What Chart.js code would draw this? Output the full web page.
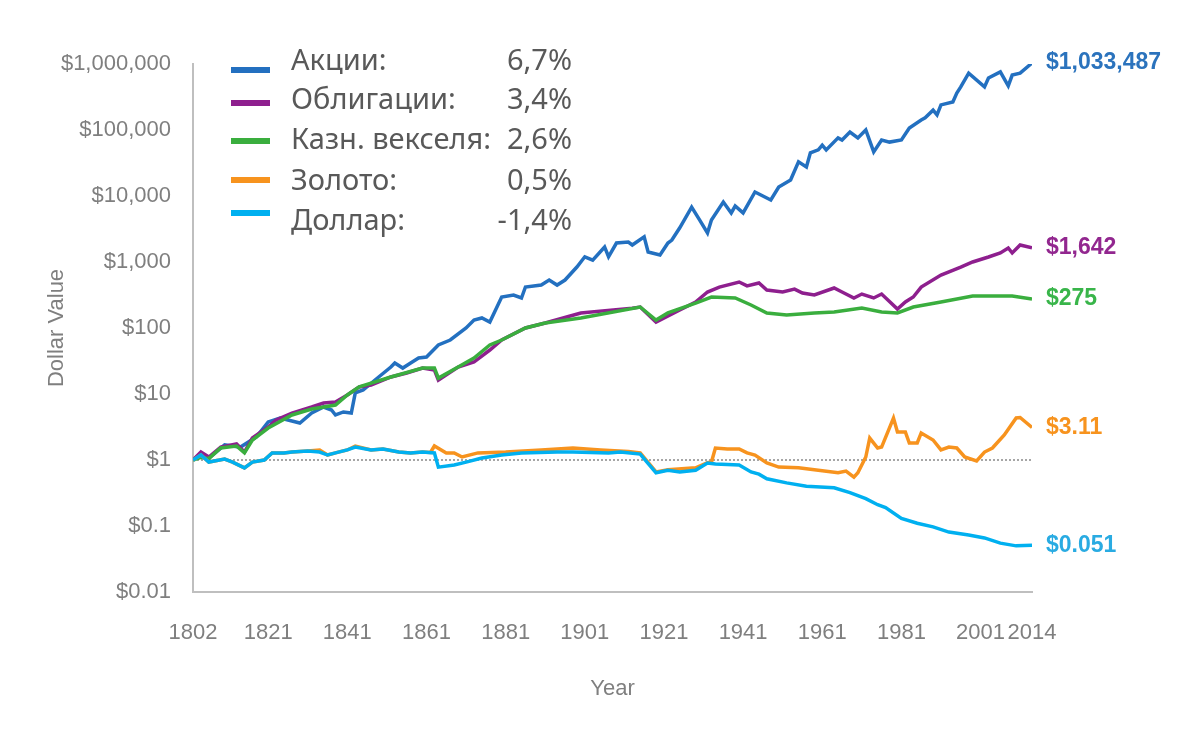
<!DOCTYPE html>
<html>
<head>
<meta charset="utf-8">
<script src="https://cdn.jsdelivr.net/npm/chart.js@4.4.1/dist/chart.umd.min.js"></script>
<style>
  html, body { margin: 0; padding: 0; background: #fff; }
  #wrap { width: 1200px; height: 735px; position: relative; }
</style>
</head>
<body>
<div id="wrap"><canvas id="chart"></canvas></div>
<script>
// [year, value of $1 invested in 1802]
const stocks = [[1802,1],[1804,1.23],[1806,1.07],[1810,1.69],[1814,1.57],[1818,2.23],[1821,3.77],[1824,4.33],[1826,4.04],[1829,3.64],
  [1832,5.15],[1835,6.35],[1837,5.72],[1838,4.81],[1840,5.34],[1842,5.15],[1843,10.4],[1845,11.5],[1848,16.3],[1852,25.6],
  [1853,29.5],[1855,24.7],[1857,29.5],[1859,35.1],[1861,36.3],[1864,55.3],[1867,65.8],[1871,100],[1873,132],[1875,142],
  [1877,123],[1880,294],[1883,316],[1885,285],[1886,418],[1890,447],[1892,533],[1894,447],[1896,533],[1899,839],
  [1901,1200],[1903,1070],[1906,1690],[1907,1200],[1909,1940],[1912,2010],[1913,1810],[1916,2410],[1917,1420],[1920,1280],
  [1922,1940],[1923,2150],[1925,3300],[1928,6800],[1930,4340],[1932,2760],[1933,4340],[1936,8120],[1938,5540],[1939,7050],
  [1941,5540],[1944,11500],[1948,8700],[1950,13700],[1953,17500],[1955,33000],[1957,27500],[1958,45000],[1960,50000],[1961,59000],
  [1962,50000],[1965,76000],[1966,70600],[1968,93000],[1970,76000],[1972,100000],[1974,46500],[1976,70600],[1978,65600],[1981,70600],
  [1983,107000],[1986,142000],[1987,153000],[1989,200000],[1990,169000],[1991,240000],[1994,266000],[1995,363000],[1996,450000],[1998,727000],
  [2002,450000],[2003,614000],[2006,760000],[2008,466000],[2009,680000],[2011,727000],[2014,1033487]];

const bonds = [[1802,1],[1804,1.32],[1806,1.11],[1809,1.57],[1813,1.75],[1815,1.32],[1817,2.15],[1821,3.16],[1823,4.04],[1827,5.15],
  [1832,6.35],[1835,7.31],[1838,7.57],[1841,9.66],[1844,12.8],[1847,13.7],[1852,18.1],[1856,20.8],[1860,24.8],[1863,23.1],
  [1864,16.3],[1869,25.6],[1873,30.5],[1877,46.4],[1880,65.8],[1886,100],[1891,119],[1900,169],[1913,200],[1915,208],
  [1919,123],[1925,187],[1929,248],[1932,351],[1935,417],[1940,498],[1942,434],[1945,481],[1947,377],[1951,351],
  [1954,389],[1956,339],[1959,316],[1964,404],[1966,351],[1969,285],[1971,327],[1974,285],[1976,327],[1980,194],
  [1982,248],[1984,295],[1986,417],[1991,633],[1996,836],[1999,1000],[2003,1190],[2006,1370],[2008,1630],[2009,1370],
  [2011,1810],[2014,1642]];

const bills = [[1802,1],[1804,1.1],[1806,1.05],[1809,1.52],[1813,1.63],[1815,1.28],[1817,2.01],[1821,3.05],[1827,4.81],[1832,5.93],
  [1838,6.81],[1841,9.66],[1844,12.8],[1852,18.1],[1860,24.8],[1863,24.8],[1864,17.4],[1869,25.6],[1873,35.1],[1877,55.3],
  [1880,65.8],[1886,100],[1891,119],[1900,142],[1915,208],[1919,132],[1922,169],[1929,239],[1933,295],[1939,285],
  [1943,223],[1947,169],[1952,157],[1959,169],[1964,175],[1971,200],[1976,175],[1980,169],[1984,208],[1991,248],
  [1999,305],[2009,305],[2014,275]];

const gold = [[1802,1],[1804,1.19],[1806,0.93],[1810,1.03],[1812,0.93],[1815,0.76],[1817,0.93],[1820,1],[1822,1.28],[1825,1.28],
  [1827,1.32],[1831,1.37],[1834,1.42],[1836,1.19],[1838,1.28],[1841,1.42],[1843,1.63],[1847,1.42],[1850,1.47],[1854,1.32],
  [1857,1.28],[1860,1.32],[1862,1.3],[1863,1.63],[1866,1.28],[1868,1.28],[1870,1.11],[1874,1.28],[1881,1.32],[1890,1.42],
  [1898,1.52],[1905,1.42],[1912,1.35],[1915,1.28],[1919,0.66],[1922,0.71],[1929,0.76],[1932,0.91],[1933,0.93],[1934,1.52],
  [1937,1.47],[1940,1.47],[1942,1.28],[1944,1.19],[1947,0.9],[1950,0.78],[1955,0.76],[1960,0.7],[1965,0.64],[1967,0.68],
  [1969,0.55],[1970,0.64],[1972,1.11],[1973,2.15],[1975,1.52],[1976,1.57],[1979,4.33],[1980,2.66],[1982,2.66],[1983,1.81],
  [1985,1.81],[1986,2.57],[1989,2.01],[1991,1.42],[1993,1.57],[1995,1.52],[1997,1.11],[2000,0.97],[2002,1.32],[2004,1.52],
  [2007,2.39],[2010,4.33],[2011,4.4],[2014,3.11]];

const dollar = [[1802,1],[1804,1.19],[1806,0.93],[1810,1.03],[1812,0.93],[1815,0.76],[1817,0.93],[1820,1],[1822,1.28],[1825,1.28],
  [1827,1.32],[1831,1.37],[1834,1.32],[1836,1.19],[1838,1.28],[1841,1.42],[1843,1.57],[1847,1.42],[1850,1.47],[1854,1.32],
  [1857,1.28],[1860,1.32],[1863,1.28],[1864,0.78],[1868,0.84],[1871,0.93],[1875,1.07],[1880,1.19],[1885,1.28],[1894,1.32],
  [1898,1.32],[1907,1.28],[1910,1.32],[1915,1.23],[1919,0.64],[1922,0.7],[1925,0.66],[1929,0.7],[1932,0.9],[1934,0.87],
  [1940,0.84],[1943,0.66],[1945,0.61],[1947,0.52],[1952,0.45],[1957,0.4],[1964,0.38],[1968,0.32],[1972,0.26],[1975,0.21],
  [1977,0.19],[1981,0.13],[1985,0.11],[1989,0.097],[1993,0.081],[1998,0.073],[2002,0.066],[2006,0.055],[2010,0.05],[2014,0.051]];

const seriesNames = ["Акции:", "Облигации:", "Казн. векселя:", "Золото:", "Доллар:"];
const seriesRates = ["6,7%", "3,4%", "2,6%", "0,5%", "-1,4%"];
const endLabels = ["$1,033,487", "$1,642", "$275", "$3.11", "$0.051"];
const xTicks = [1802, 1821, 1841, 1861, 1881, 1901, 1921, 1941, 1961, 1981, 2001, 2014];
const yTicks = [0.01, 0.1, 1, 10, 100, 1000, 10000, 100000, 1000000];

const allSeries = [stocks, bonds, bills, gold, dollar];
const colors = ["#2370c0", "#8e1f8e", "#3aae3e", "#f7931e", "#00b0f0"];
const labelColors = ["#2b73bd", "#92278f", "#39b54a", "#f7931e", "#29abe2"];

const AXIS_FONT = '"Liberation Sans", Arial, sans-serif';
const GREY = "#7f7f7f";

const sideLegend = {
  id: "sideLegend",
  afterDraw(chart) {
    const ctx = chart.ctx;
    const markerY = [70, 103, 141, 180, 213];
    const textY = [62, 101, 141, 182, 222];
    ctx.save();
    ctx.font = '29px "Noto Sans", "Open Sans", sans-serif';
    ctx.textBaseline = "middle";
    seriesNames.forEach((name, i) => {
      ctx.strokeStyle = colors[i];
      ctx.lineWidth = 6;
      ctx.beginPath();
      ctx.moveTo(231, markerY[i]);
      ctx.lineTo(270, markerY[i]);
      ctx.stroke();
      ctx.fillStyle = "#595959";
      ctx.textAlign = "left";
      ctx.fillText(name, 291, textY[i]);
      ctx.textAlign = "right";
      ctx.fillText(seriesRates[i], 572, textY[i]);
    });
    ctx.restore();
  },
};

const endValueLabels = {
  id: "endValueLabels",
  afterDraw(chart) {
    const ctx = chart.ctx;
    const y = chart.scales.y;
    ctx.save();
    ctx.font = 'bold 23px "Liberation Sans", Arial, sans-serif';
    ctx.textAlign = "left";
    ctx.textBaseline = "middle";
    allSeries.forEach((s, i) => {
      const last = s[s.length - 1];
      ctx.fillStyle = labelColors[i];
      ctx.fillText(endLabels[i], chart.chartArea.right + 14, y.getPixelForValue(last[1]));
    });
    ctx.restore();
  },
};

const datasets = allSeries.map((s, i) => ({
  label: seriesNames[i],
  data: s.map(([x, v]) => ({ x, y: v })),
  borderColor: colors[i],
  backgroundColor: "transparent",
  borderWidth: 3.5,
  pointRadius: 0,
  tension: 0,
  order: 5 - i,
}));
datasets.push({
  label: "baseline",
  data: [{ x: 1802, y: 1 }, { x: 2014, y: 1 }],
  borderColor: "#a6a6a6",
  borderWidth: 2,
  borderDash: [2, 2],
  pointRadius: 0,
  order: 10,
});

new Chart(document.getElementById("chart").getContext("2d"), {
  type: "line",
  data: { datasets },
  plugins: [sideLegend, endValueLabels],
  options: {
    responsive: true,
    maintainAspectRatio: false,
    animation: false,
    layout: { padding: { top: 64, right: 168, left: 40, bottom: 33 } },
    plugins: { legend: { display: false }, tooltip: { enabled: false } },
    scales: {
      x: {
        type: "linear",
        min: 1802,
        max: 2014,
        afterBuildTicks: (axis) => { axis.ticks = xTicks.map((v) => ({ value: v })); },
        afterFit: (axis) => { axis.height = 110; },
        ticks: { color: GREY, font: { family: AXIS_FONT, size: 22 }, padding: 20, maxRotation: 0, autoSkip: false, callback: (v) => String(v) },
        grid: { display: false },
        border: { display: true, color: "#bfbfbf", width: 2 },
        title: { display: true, text: "Year", color: GREY, font: { family: AXIS_FONT, size: 22 }, padding: 0 },
      },
      y: {
        type: "logarithmic",
        min: 0.01,
        max: 1000000,
        afterBuildTicks: (axis) => { axis.ticks = yTicks.map((v) => ({ value: v })); },
        afterFit: (axis) => { axis.width = 153; },
        ticks: {
          color: GREY,
          font: { family: AXIS_FONT, size: 22 },
          padding: 14,
          autoSkip: false,
          callback: (v) => (v >= 1 ? "$" + v.toLocaleString("en-US") : "$" + v),
        },
        grid: { display: false },
        border: { display: true, color: "#bfbfbf", width: 2 },
        title: { display: true, text: "Dollar Value", color: GREY, font: { family: AXIS_FONT, size: 22 }, padding: { top: 4, bottom: 0 } },
      },
    },
  },
});
</script>
</body>
</html>
